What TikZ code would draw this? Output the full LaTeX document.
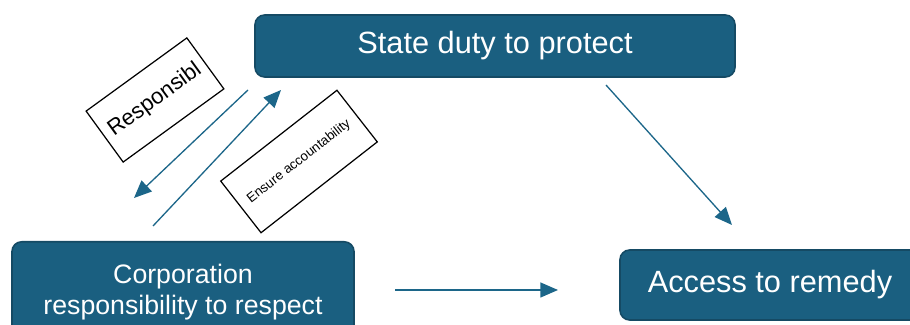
\documentclass[tikz,border=0pt]{standalone}
\usepackage{fontspec}
\setmainfont{Liberation Sans}
\usepackage{xcolor}
\usetikzlibrary{arrows.meta}
\definecolor{boxblue}{HTML}{1A5F80}
\definecolor{boxedge}{HTML}{154A64}
\definecolor{arrowblue}{HTML}{1C6689}

\begin{document}
\begin{tikzpicture}[
	pillar/.style={rectangle,rounded corners=5.5pt,draw=boxedge,line width=0.9pt,fill=boxblue,
		text=white,align=center,font=\fontsize{17.5}{17.6}\selectfont},
	tag/.style={rectangle,draw=black,line width=0.7pt,fill=white,inner sep=0pt},
	link/.style={line width=0.75pt,color=arrowblue,-{Triangle[length=10pt,width=8.5pt]}}
	]

	\useasboundingbox (0,0) rectangle (18.2,6.5);
	\clip (0,0) rectangle (18.2,6.5);

	% the three pillars

	\node[pillar,minimum width=9.6cm,minimum height=1.24cm] (state) at (9.9,5.58) {State duty to protect};
	\node[pillar,minimum width=6.84cm,minimum height=2cm,anchor=north,font=\fontsize{15.2}{17.6}\selectfont] (corp) at (3.66,1.68) {Corporation\\responsibility to respect};
	\node[pillar,minimum width=6cm,minimum height=1.4cm] (remedy) at (15.4,0.8) {Access to remedy};

	% end points of the arrows

	\coordinate (s1) at (12.12,4.8);
	\coordinate (r1) at (14.64,2.0);
	\coordinate (c1) at (7.9,0.7);
	\coordinate (r2) at (11.16,0.7);
	\coordinate (s2) at (4.96,4.7);
	\coordinate (c2) at (2.68,2.54);
	\coordinate (c3) at (3.06,1.98);
	\coordinate (s3) at (5.62,4.7);

	\draw[link] (s1) -- (r1);
	\draw[link] (c1) -- (r2);
	\draw[link] (s2) -- (c2);
	\draw[link] (c3) -- (s3);

	% labels on the two slanted arrows

	\node[tag,minimum width=2.49cm,minimum height=1.26cm,rotate=36,font=\fontsize{12.6}{13}\selectfont] (resp) at (3.1,4.5) {Responsibl};
	\node[tag,minimum width=2.95cm,minimum height=1.31cm,rotate=38,font=\fontsize{7.6}{8}\selectfont] (acc) at (5.98,3.27) {Ensure accountability};

\end{tikzpicture}
\end{document}
